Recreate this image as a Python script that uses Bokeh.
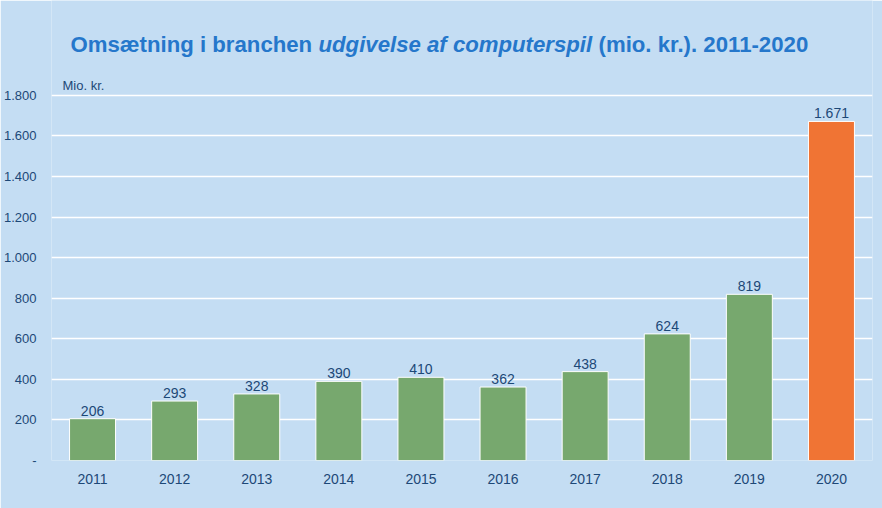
from bokeh.plotting import figure
from bokeh.models import Label, FixedTicker, Range1d, ColumnDataSource
from bokeh.core.properties import value
from bokeh.embed import file_html
from bokeh.resources import INLINE

# ---- data ----
years = ["2011", "2012", "2013", "2014", "2015", "2016", "2017", "2018", "2019", "2020"]
revenue = [206, 293, 328, 390, 410, 362, 438, 624, 819, 1671]
bar_colors = ["#77A86E"] * 9 + ["#F07434"]
tick_values = [0, 200, 400, 600, 800, 1000, 1200, 1400, 1600, 1800]
tick_labels = ["-", "200", "400", "600", "800", "1.000", "1.200", "1.400", "1.600", "1.800"]
value_labels = [f"{v:,}".replace(",", ".") for v in revenue]
title_parts = ["Omsætning i branchen", "udgivelse af computerspil", "(mio. kr.). 2011-2020"]
title_styles = ["bold", "bold italic", "bold"]
unit_label = "Mio. kr."

# ---- styles / layout ----
BG = "#C4DDF3"
DARK = "#1D4877"
TITLE_COLOR = "#2577CB"
FONT = "Liberation Sans"
TITLE_SIZE = 22.2
# advance widths (em, Arial/Liberation Sans Bold) of each piece incl. its separating space
title_em = [11.169, 12.337 + 0.278, 9.560]
total_w = sum(title_em) * TITLE_SIZE
offsets = []
acc = -total_w / 2
for w in title_em:
    offsets.append(acc)
    acc += w * TITLE_SIZE

src = ColumnDataSource(dict(year=years, value=revenue, color=bar_colors, label=value_labels))

p = figure(
    x_range=years, y_range=Range1d(0, 2267),
    width=882, height=508,
    output_backend="svg", toolbar_location=None,
    min_border_left=51, min_border_right=10, min_border_top=0, min_border_bottom=48,
    background_fill_color=BG, border_fill_color=BG,
    outline_line_color=None,
)

yticker = FixedTicker(ticks=tick_values)
p.yaxis.ticker = yticker
p.ygrid.ticker = yticker
p.yaxis.major_label_overrides = dict(zip(tick_values, tick_labels))
p.xgrid.grid_line_color = None
p.ygrid.grid_line_color = "white"
p.ygrid.grid_line_width = 1.6

p.vbar(x="year", top="value", width=0.56, fill_color="color", line_color="white",
       line_width=1, source=src)
p.text(x="year", y="value", text="label", text_align="center", text_baseline="alphabetic",
       y_offset=-8, text_font=value(FONT), text_font_size="14px", text_color=DARK, source=src)

# title (mixed normal / italic)
tsrc = ColumnDataSource(dict(x=[4.74] * 3, y=[2050] * 3, text=title_parts,
                             style=title_styles, xo=offsets))
p.text(x="x", y="y", text="text", x_offset="xo", text_font_style="style",
       text_align="left", text_baseline="alphabetic", text_font=value(FONT),
       text_font_size=f"{TITLE_SIZE}px", text_color=TITLE_COLOR, source=tsrc)

p.add_layout(Label(x=0.134, y=1850, text=unit_label, text_font=FONT, text_font_size="13px",
                   text_color=DARK, text_baseline="alphabetic", text_align="left"))

for ax in (p.xaxis[0], p.yaxis[0]):
    ax.axis_line_color = None
    ax.major_tick_line_color = None
    ax.minor_tick_line_color = None
    ax.major_tick_out = 0
    ax.major_tick_in = 0
    ax.minor_tick_out = 0
    ax.minor_tick_in = 0
    ax.major_label_text_font = FONT
    ax.major_label_text_color = DARK
p.xaxis.major_label_text_font_size = "14px"
p.yaxis.major_label_text_font_size = "13px"
p.xaxis.major_label_standoff = 13
p.yaxis.major_label_standoff = 15

open("out.html", "w").write(file_html(p, INLINE))
